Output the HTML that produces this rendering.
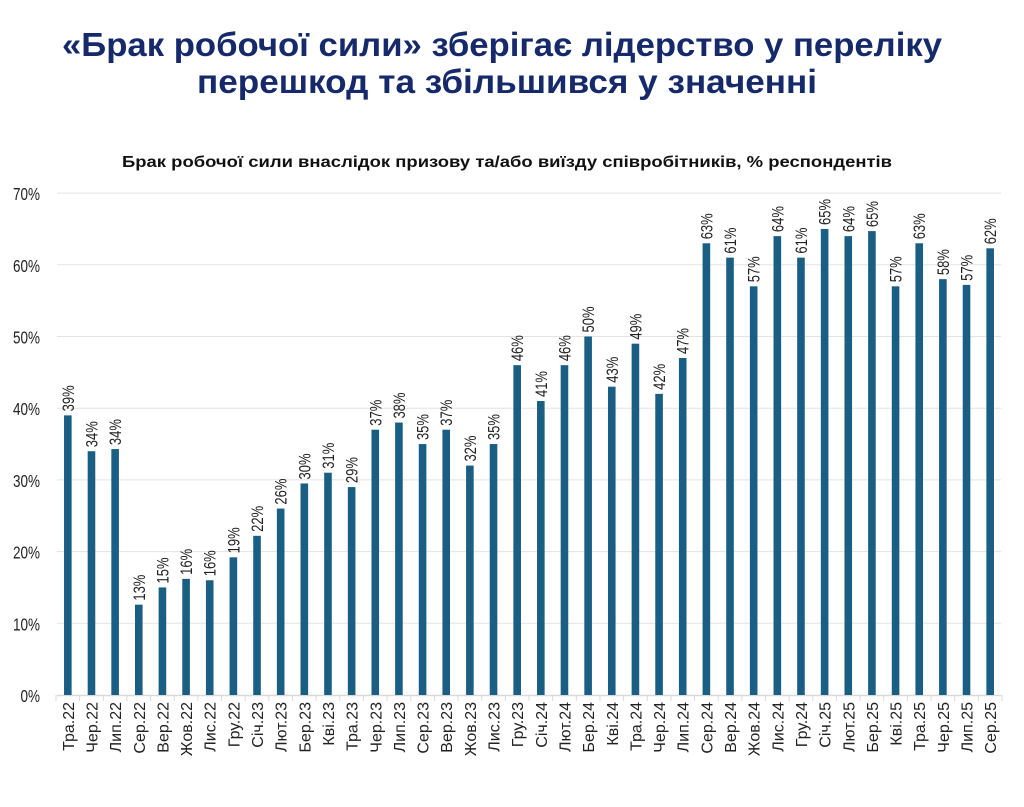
<!DOCTYPE html>
<html><head><meta charset="utf-8"><style>
body{margin:0;background:#fff;}
svg{display:block;}
</style></head><body>
<svg width="1024" height="807" xmlns="http://www.w3.org/2000/svg" font-family="'Liberation Sans Narrow','Liberation Sans',sans-serif">
<text x="502" y="56" text-anchor="middle" font-family="'Liberation Sans',sans-serif" font-weight="bold" font-size="33" fill="#15296b" textLength="880" lengthAdjust="spacingAndGlyphs">«Брак робочої сили» зберігає лідерство у переліку</text>
<text x="507" y="93" text-anchor="middle" font-family="'Liberation Sans',sans-serif" font-weight="bold" font-size="33" fill="#15296b" textLength="620" lengthAdjust="spacingAndGlyphs">перешкод та збільшився у значенні</text>
<text x="507" y="167" text-anchor="middle" font-family="'Liberation Sans',sans-serif" font-weight="bold" font-size="16" fill="#111" textLength="770" lengthAdjust="spacingAndGlyphs">Брак робочої сили внаслідок призову та/або виїзду співробітників, % респондентів</text>
<g id="g"></g>
</svg>
<script>
var vals=[39,34,34.3,12.6,15,16.2,16,19.2,22.2,26,29.5,31,29,37,38,35,37,32,35,46,41,46,50,43,49,42,47,63,61,57,64,61,65,64,64.7,57,63,58,57.2,62.3];
var cats=["Тра.22","Чер.22","Лип.22","Сер.22","Вер.22","Жов.22","Лис.22","Гру.22","Січ.23","Лют.23","Бер.23","Кві.23","Тра.23","Чер.23","Лип.23","Сер.23","Вер.23","Жов.23","Лис.23","Гру.23","Січ.24","Лют.24","Бер.24","Кві.24","Тра.24","Чер.24","Лип.24","Сер.24","Вер.24","Жов.24","Лис.24","Гру.24","Січ.25","Лют.25","Бер.25","Кві.25","Тра.25","Чер.25","Лип.25","Сер.25"];
var g=document.getElementById("g"),h="";
var y0=695,k=7.17,x0=56,st=23.65;
for(var i=0;i<=7;i++){var y=y0-i*10*k;
 if(i>0)h+='<line x1="57" x2="1001" y1="'+y+'" y2="'+y+'" stroke="#e3e3e3" stroke-width="1"/>';
 h+='<text x="40" y="'+(y+7)+'" text-anchor="end" font-size="18" fill="#222" transform="translate(40 0) scale(0.75 1) translate(-40 0)">'+(i*10)+'%</text>';}
h+='<line x1="57" x2="1001" y1="695.5" y2="695.5" stroke="#d9d9d9" stroke-width="1.5"/>';
for(var i=0;i<=40;i++){var x=x0+i*st;h+='<line x1="'+x+'" x2="'+x+'" y1="695" y2="701" stroke="#d9d9d9"/>';}
for(var i=0;i<40;i++){var c=x0+st*(i+0.5),v=vals[i],t=y0-v*k;
 h+='<rect x="'+(c-3.8)+'" y="'+t+'" width="7.6" height="'+(y0-t)+'" fill="#1a5e84"/>';
 h+='<text transform="translate('+(c+6)+' '+(t-4)+') rotate(-90)" font-size="17" fill="#222" textLength="26" lengthAdjust="spacingAndGlyphs">'+Math.round(v)+'%</text>';
 h+='<text transform="translate('+(c+6)+' 702) rotate(-90)" text-anchor="end" font-size="16" fill="#222">'+cats[i]+'</text>';}
g.innerHTML=h;
</script>
</body></html>
